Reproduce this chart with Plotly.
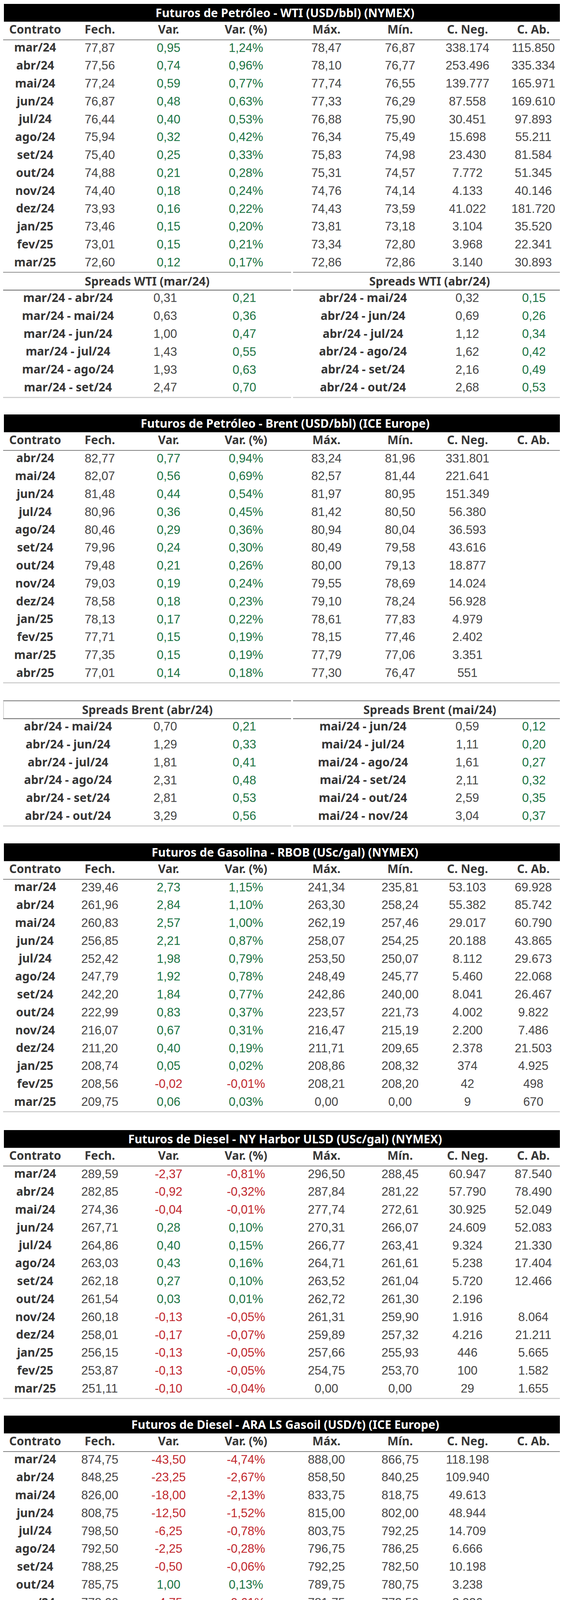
import plotly.graph_objects as go

# ---------------- data ----------------
months13_wti = ["mar/24", "abr/24", "mai/24", "jun/24", "jul/24", "ago/24", "set/24",
                "out/24", "nov/24", "dez/24", "jan/25", "fev/25", "mar/25"]
fut_headers = ["Contrato", "Fech.", "Var.", "Var. (%)", "Máx.", "Mín.", "C. Neg.", "C. Ab."]

# WTI (NYMEX)
wti_contract = months13_wti
wti_close = [77.87, 77.56, 77.24, 76.87, 76.44, 75.94, 75.40, 74.88, 74.40, 73.93, 73.46, 73.01, 72.60]
wti_chg = [0.95, 0.74, 0.59, 0.48, 0.40, 0.32, 0.25, 0.21, 0.18, 0.16, 0.15, 0.15, 0.12]
wti_pct = [1.24, 0.96, 0.77, 0.63, 0.53, 0.42, 0.33, 0.28, 0.24, 0.22, 0.20, 0.21, 0.17]
wti_high = [78.47, 78.10, 77.74, 77.33, 76.88, 76.34, 75.83, 75.31, 74.76, 74.43, 73.81, 73.34, 72.86]
wti_low = [76.87, 76.77, 76.55, 76.29, 75.90, 75.49, 74.98, 74.57, 74.14, 73.59, 73.18, 72.80, 72.86]
wti_vol = [338174, 253496, 139777, 87558, 30451, 15698, 23430, 7772, 4133, 41022, 3104, 3968, 3140]
wti_oi = [115850, 335334, 165971, 169610, 97893, 55211, 81584, 51345, 40146, 181720, 35520, 22341, 30893]

# Spreads WTI
spr_wti_mar_label = ["mar/24 - abr/24", "mar/24 - mai/24", "mar/24 - jun/24",
                     "mar/24 - jul/24", "mar/24 - ago/24", "mar/24 - set/24"]
spr_wti_mar_val = [0.31, 0.63, 1.00, 1.43, 1.93, 2.47]
spr_wti_mar_chg = [0.21, 0.36, 0.47, 0.55, 0.63, 0.70]
spr_wti_abr_label = ["abr/24 - mai/24", "abr/24 - jun/24", "abr/24 - jul/24",
                     "abr/24 - ago/24", "abr/24 - set/24", "abr/24 - out/24"]
spr_wti_abr_val = [0.32, 0.69, 1.12, 1.62, 2.16, 2.68]
spr_wti_abr_chg = [0.15, 0.26, 0.34, 0.42, 0.49, 0.53]

# Brent (ICE Europe)
brent_contract = ["abr/24", "mai/24", "jun/24", "jul/24", "ago/24", "set/24", "out/24",
                  "nov/24", "dez/24", "jan/25", "fev/25", "mar/25", "abr/25"]
brent_close = [82.77, 82.07, 81.48, 80.96, 80.46, 79.96, 79.48, 79.03, 78.58, 78.13, 77.71, 77.35, 77.01]
brent_chg = [0.77, 0.56, 0.44, 0.36, 0.29, 0.24, 0.21, 0.19, 0.18, 0.17, 0.15, 0.15, 0.14]
brent_pct = [0.94, 0.69, 0.54, 0.45, 0.36, 0.30, 0.26, 0.24, 0.23, 0.22, 0.19, 0.19, 0.18]
brent_high = [83.24, 82.57, 81.97, 81.42, 80.94, 80.49, 80.00, 79.55, 79.10, 78.61, 78.15, 77.79, 77.30]
brent_low = [81.96, 81.44, 80.95, 80.50, 80.04, 79.58, 79.13, 78.69, 78.24, 77.83, 77.46, 77.06, 76.47]
brent_vol = [331801, 221641, 151349, 56380, 36593, 43616, 18877, 14024, 56928, 4979, 2402, 3351, 551]
brent_oi = [None] * 13

# Spreads Brent
spr_brent_abr_label = ["abr/24 - mai/24", "abr/24 - jun/24", "abr/24 - jul/24",
                       "abr/24 - ago/24", "abr/24 - set/24", "abr/24 - out/24"]
spr_brent_abr_val = [0.70, 1.29, 1.81, 2.31, 2.81, 3.29]
spr_brent_abr_chg = [0.21, 0.33, 0.41, 0.48, 0.53, 0.56]
spr_brent_mai_label = ["mai/24 - jun/24", "mai/24 - jul/24", "mai/24 - ago/24",
                       "mai/24 - set/24", "mai/24 - out/24", "mai/24 - nov/24"]
spr_brent_mai_val = [0.59, 1.11, 1.61, 2.11, 2.59, 3.04]
spr_brent_mai_chg = [0.12, 0.20, 0.27, 0.32, 0.35, 0.37]

# Gasolina RBOB (NYMEX)
rbob_contract = months13_wti
rbob_close = [239.46, 261.96, 260.83, 256.85, 252.42, 247.79, 242.20, 222.99, 216.07, 211.20, 208.74, 208.56, 209.75]
rbob_chg = [2.73, 2.84, 2.57, 2.21, 1.98, 1.92, 1.84, 0.83, 0.67, 0.40, 0.05, -0.02, 0.06]
rbob_pct = [1.15, 1.10, 1.00, 0.87, 0.79, 0.78, 0.77, 0.37, 0.31, 0.19, 0.02, -0.01, 0.03]
rbob_high = [241.34, 263.30, 262.19, 258.07, 253.50, 248.49, 242.86, 223.57, 216.47, 211.71, 208.86, 208.21, 0.00]
rbob_low = [235.81, 258.24, 257.46, 254.25, 250.07, 245.77, 240.00, 221.73, 215.19, 209.65, 208.32, 208.20, 0.00]
rbob_vol = [53103, 55382, 29017, 20188, 8112, 5460, 8041, 4002, 2200, 2378, 374, 42, 9]
rbob_oi = [69928, 85742, 60790, 43865, 29673, 22068, 26467, 9822, 7486, 21503, 4925, 498, 670]

# Diesel NY Harbor ULSD (NYMEX)
ho_contract = months13_wti
ho_close = [289.59, 282.85, 274.36, 267.71, 264.86, 263.03, 262.18, 261.54, 260.18, 258.01, 256.15, 253.87, 251.11]
ho_chg = [-2.37, -0.92, -0.04, 0.28, 0.40, 0.43, 0.27, 0.03, -0.13, -0.17, -0.13, -0.13, -0.10]
ho_pct = [-0.81, -0.32, -0.01, 0.10, 0.15, 0.16, 0.10, 0.01, -0.05, -0.07, -0.05, -0.05, -0.04]
ho_high = [296.50, 287.84, 277.74, 270.31, 266.77, 264.71, 263.52, 262.72, 261.31, 259.89, 257.66, 254.75, 0.00]
ho_low = [288.45, 281.22, 272.61, 266.07, 263.41, 261.61, 261.04, 261.30, 259.90, 257.32, 255.93, 253.70, 0.00]
ho_vol = [60947, 57790, 30925, 24609, 9324, 5238, 5720, 2196, 1916, 4216, 446, 100, 29]
ho_oi = [87540, 78490, 52049, 52083, 21330, 17404, 12466, None, 8064, 21211, 5665, 1582, 1655]

# Diesel ARA LS Gasoil (ICE Europe)
gasoil_contract = ["mar/24", "abr/24", "mai/24", "jun/24", "jul/24", "ago/24",
                   "set/24", "out/24", "nov/24", "dez/24", "jan/25"]
gasoil_close = [874.75, 848.25, 826.00, 808.75, 798.50, 792.50, 788.25, 785.75, 778.00, 768.50, 762.50]
gasoil_chg = [-43.50, -23.25, -18.00, -12.50, -6.25, -2.25, -0.50, 1.00, -4.75, -6.75, -3.25]
gasoil_pct = [-4.74, -2.67, -2.13, -1.52, -0.78, -0.28, -0.06, 0.13, -0.61, -0.87, -0.42]
gasoil_high = [888.00, 858.50, 833.75, 815.00, 803.75, 796.75, 792.25, 789.75, 781.75, 771.75, 764.75]
gasoil_low = [866.75, 840.25, 818.75, 802.00, 792.25, 786.25, 782.50, 780.75, 772.50, 763.00, 757.75]
gasoil_vol = [118198, 109940, 49613, 48944, 14709, 6666, 10198, 3238, 2026, 15368, 1634]
gasoil_oi = [None] * 11

# Crack spreads
crack_products = ["Diesel NY", "Gasolina NY", "3:2:1"]
crack_wti_mar = [43.76, 22.70, 29.72]
crack_wti_mar_chg = [-1.95, 0.20, -0.52]
crack_wti_abr = [41.24, 32.46, 35.39]
crack_wti_abr_chg = [-1.13, 0.45, -0.07]
crack_brent_abr = [36.03, 27.25, 30.18]
crack_brent_abr_chg = [-1.16, 0.42, -0.10]
crack_brent_mai = [33.16, 27.48, 29.37]
crack_brent_mai_chg = [-0.58, 0.52, None]

# Spread Brent - WTI
bw_contract = ["abr/24", "mai/24", "jun/24"]
bw_spread = [5.21, 4.83, 4.61]
bw_chg = [0.03, -0.03, -0.04]

# Índices
idx_name = ["Dollar Index", "Dólar/Real", "Índice CRB"]
idx_close = [104.960, 4.954, 314.04]
idx_chg = [0.790, 0.000, -0.26]
idx_pct = [0.76, 0.00, None]
idx_decimals = [3, 3, 2]

# Gás Natural - contratos futuros
gas_name = ["Henry Hub", "TTF", "NBP"]
gas_close = [1.69, 25.45, 62.19]
gas_chg = [-0.04, -0.01, -0.01]

# Gás Natural - Brasil
br_name = ["Petrobras 2024/25 (11,9%)"]
br_close = [9.850]
br_chg = [0.992]
br_pct = [1.24]

# ---------------- style ----------------
W, H = 1441, 5221
RH = 45.77          # row height (px)
HEAD_H = 46.5       # column header height
TITLE_H = 45.5      # black title bar height
GREEN = "#1b7343"
RED = "#c1272d"
GRAY = "#454545"
LABEL = "#363636"
HEAD_LINE = "#808080"
END_LINE = "#c8c8c8"
BOLD_FONT = "Noto Sans"
NUM_FONT = "Liberation Sans, Arial, sans-serif"
FS_NUM = 31
FS_LAB = 30


def br(v, dec=2, pct=False):
    if v is None:
        return ""
    s = f"{v:,.{dec}f}".replace(",", "X").replace(".", ",").replace("X", ".")
    return s + ("%" if pct else "")


def ccol(v):
    if v is None or v == 0:
        return GRAY
    return GREEN if v > 0 else RED


def b(lst):
    return [f"<b>{s}</b>" for s in lst]


fig = go.Figure()


def centers(x0, widths):
    out, acc = [], x0
    for w in widths:
        out.append(acc + w / 2)
        acc += w
    return out


def text_col(xc, top, texts, colors, bold=False, rh=RH):
    n = len(texts)
    ys = [top + (i + 0.5) * rh for i in range(n)]
    fig.add_trace(go.Scatter(
        x=[xc] * n, y=ys, mode="text", text=b(texts) if bold else texts,
        textposition="middle center", cliponaxis=False, hoverinfo="skip", showlegend=False,
        textfont=dict(family=BOLD_FONT if bold else NUM_FONT,
                      size=FS_LAB if bold else FS_NUM, color=colors)))


def hline(x0, x1, y, color, width):
    fig.add_shape(type="line", xref="x", yref="y", x0=x0, x1=x1, y0=y, y1=y,
                  line=dict(color=color, width=width), layer="above")


def vline(x, y0, y1, color, width):
    fig.add_shape(type="line", xref="x", yref="y", x0=x, x1=x, y0=y0, y1=y1,
                  line=dict(color=color, width=width), layer="above")


def table(x0, widths, top, cols, colors, header=None):
    """cols[0] is the (bold) label column; returns y where rows end."""
    cx = centers(x0, widths)
    if header:
        for xc, h in zip(cx, header):
            text_col(xc, top, [h], [LABEL], bold=True, rh=HEAD_H)
        hline(x0, x0 + sum(widths), top + HEAD_H, HEAD_LINE, 2)
        top = top + HEAD_H
    for i, (xc, col, colr) in enumerate(zip(cx, cols, colors)):
        text_col(xc, top, col, colr, bold=(i == 0))
    return top + len(cols[0]) * RH


def title_bar(x0, x1, y0, text):
    y1 = y0 + TITLE_H
    fig.add_shape(type="rect", xref="x", yref="y", x0=x0, x1=x1, y0=y0, y1=y1,
                  fillcolor="black", line=dict(width=0), layer="below")
    fig.add_annotation(xref="x", yref="y", x=(x0 + x1) / 2, y=(y0 + y1) / 2,
                       text=f"<b>{text}</b>", showarrow=False, xanchor="center", yanchor="middle",
                       font=dict(family=BOLD_FONT, size=FS_LAB, color="white"))
    return y1


def sub_title(x0, x1, y0, text):
    fig.add_annotation(xref="x", yref="y", x=(x0 + x1) / 2, y=y0 + RH / 2,
                       text=f"<b>{text}</b>", showarrow=False, xanchor="center", yanchor="middle",
                       font=dict(family=BOLD_FONT, size=FS_LAB, color=LABEL))


FUT_W = [164, 167, 185, 211, 201, 176, 169, 168]


def futures_block(top, title, contract, close, chg, pct, high, low, vol, oi):
    htop = title_bar(2, W, top, title)
    n = len(contract)
    cols = [contract, [br(v) for v in close], [br(v) for v in chg],
            [br(v, 2, True) for v in pct], [br(v) for v in high], [br(v) for v in low],
            [br(v, 0) for v in vol], [br(v, 0) for v in oi]]
    colors = [[LABEL] * n, [GRAY] * n, [ccol(v) for v in chg], [ccol(v) for v in pct],
              [GRAY] * n, [GRAY] * n, [GRAY] * n, [GRAY] * n]
    return table(0, FUT_W, htop, cols, colors, header=fut_headers)


LEFT = 0
RIGHT = 742
HALF_W_L = [332, 166, 239]
HALF_W_R = [358, 176, 165]


def pair_table(x0, widths, top, labels, vals, chgs, header=None):
    n = len(labels)
    cols = [labels, [br(v) for v in vals], [br(v) for v in chgs]]
    colors = [[LABEL] * n, [GRAY] * n, [ccol(v) for v in chgs]]
    return table(x0, widths, top, cols, colors, header=header)


# ---------- 1. WTI ----------
end1 = futures_block(2, "Futuros de Petróleo - WTI (USD/bbl) (NYMEX)", wti_contract, wti_close,
                     wti_chg, wti_pct, wti_high, wti_low, wti_vol, wti_oi)
hline(0, 737, end1, "#8f8f8f", 2)
hline(742, W, end1, "#8f8f8f", 2)
sub_title(0, 737, end1, "Spreads WTI (mar/24)")
sub_title(742, W, end1, "Spreads WTI (abr/24)")
s_top = end1 + RH
hline(0, 737, s_top, HEAD_LINE, 2.5)
hline(742, W, s_top, HEAD_LINE, 2.5)
s_end = pair_table(LEFT, HALF_W_L, s_top, spr_wti_mar_label, spr_wti_mar_val, spr_wti_mar_chg)
pair_table(RIGHT, HALF_W_R, s_top, spr_wti_abr_label, spr_wti_abr_val, spr_wti_abr_chg)
hline(0, 737, s_end, END_LINE, 2.5)
hline(742, W, s_end, END_LINE, 2.5)

# ---------- 2. Brent ----------
end2 = futures_block(1053, "Futuros de Petróleo - Brent (USD/bbl) (ICE Europe)", brent_contract,
                     brent_close, brent_chg, brent_pct, brent_high, brent_low, brent_vol, brent_oi)
hline(0, W, end2, END_LINE, 2.5)
sb_top = 1786
hline(0, 737, sb_top, "#8a8a8a", 2.5)
hline(742, W, sb_top, "#8a8a8a", 2.5)
vline(1, sb_top, sb_top + RH, END_LINE, 1.5)
sub_title(0, 737, sb_top, "Spreads Brent (abr/24)")
sub_title(742, W, sb_top, "Spreads Brent (mai/24)")
sb_rows = sb_top + RH
hline(0, 737, sb_rows, HEAD_LINE, 2.5)
hline(742, W, sb_rows, HEAD_LINE, 2.5)
sb_end = pair_table(LEFT, HALF_W_L, sb_rows, spr_brent_abr_label, spr_brent_abr_val, spr_brent_abr_chg)
pair_table(RIGHT, HALF_W_R, sb_rows, spr_brent_mai_label, spr_brent_mai_val, spr_brent_mai_chg)
hline(0, 737, sb_end, END_LINE, 2.5)
hline(742, W, sb_end, END_LINE, 2.5)

# ---------- 3. Gasolina ----------
end3 = futures_block(2151, "Futuros de Gasolina - RBOB (USc/gal) (NYMEX)", rbob_contract, rbob_close,
                     rbob_chg, rbob_pct, rbob_high, rbob_low, rbob_vol, rbob_oi)
hline(0, W, end3, END_LINE, 2.5)

# ---------- 4. Diesel NY ----------
end4 = futures_block(2885, "Futuros de Diesel - NY Harbor ULSD (USc/gal) (NYMEX)", ho_contract, ho_close,
                     ho_chg, ho_pct, ho_high, ho_low, ho_vol, ho_oi)
hline(0, W, end4, END_LINE, 2.5)

# ---------- 5. ARA Gasoil ----------
end5 = futures_block(3616, "Futuros de Diesel - ARA LS Gasoil (USD/t) (ICE Europe)", gasoil_contract,
                     gasoil_close, gasoil_chg, gasoil_pct, gasoil_high, gasoil_low, gasoil_vol, gasoil_oi)
hline(0, W, end5, END_LINE, 2.5)

# ---------- 6. Crack spreads ----------
c_top = 4257
title_bar(2, 737, c_top, "Crack-Spreads WTI (USD/bbl)")
h1 = title_bar(742, W, c_top, "Crack-Spreads Brent (USD/bbl)")
h2 = pair_table(LEFT, HALF_W_L, h1, crack_products, crack_wti_mar, crack_wti_mar_chg,
                header=["Contrato (mar/24)", "Crack", "Var."])
pair_table(RIGHT, HALF_W_R, h1, crack_products, crack_brent_abr, crack_brent_abr_chg,
           header=["Contrato (abr/24)", "Crack", "Var."])
hline(0, 737, h2, "#a0a0a0", 2.5)
hline(742, 1274, h2, "#a0a0a0", 2.5)
c_end = pair_table(LEFT, HALF_W_L, h2, crack_products, crack_wti_abr, crack_wti_abr_chg,
                   header=["Contrato (abr/24)", "Crack", "Var."])
pair_table(RIGHT, HALF_W_R, h2, crack_products, crack_brent_mai, crack_brent_mai_chg,
           header=["Contrato (mai/24)", "Crack", "Var."])
hline(0, 737, c_end, END_LINE, 2.5)
hline(742, W, c_end, END_LINE, 2.5)

# ---------- 7. Spread Brent-WTI / Índices ----------
SMALL_W = [164, 167, 166]
IDX_W = [425, 176, 169, 168]
i_top = 4715
title_bar(2, 497, i_top, "Spread Brent - WTI")
ih = title_bar(503, W, i_top, "Índices")
i_end = pair_table(0, SMALL_W, ih, bw_contract, bw_spread, bw_chg, header=["Contrato", "Spread", "Var."])
n_idx = len(idx_name)
table(503, IDX_W, ih,
      [idx_name, [br(v, d) for v, d in zip(idx_close, idx_decimals)],
       [br(v, d) for v, d in zip(idx_chg, idx_decimals)], [br(v, 2, True) for v in idx_pct]],
      [[LABEL] * n_idx, [GRAY] * n_idx, [ccol(v) for v in idx_chg], [ccol(v) for v in idx_pct]],
      header=["Índice", "Fech.", "Var.", "Var. (%)"])
hline(0, W, i_end, END_LINE, 2.5)

# ---------- 8. Gás natural ----------
g_top = 4990
title_bar(2, 497, g_top, "Gás Natural - Contratos Futuros")
gh = title_bar(503, W, g_top, "Gás Natural - Brasil")
n_gas = len(gas_name)
table(0, SMALL_W, gh,
      [gas_name, [br(v) for v in gas_close], [br(v) for v in gas_chg]],
      [[LABEL] * n_gas, [GRAY] * n_gas, [ccol(v) for v in gas_chg]],
      header=["Contrato", "Fech.", "Var."])
# Brazil table: header, then a single row centred across the three-row body
for xc, hdr in zip(centers(503, IDX_W), ["Índice", "Fech.", "Var.", "Var. (%)"]):
    text_col(xc, gh, [hdr], [LABEL], bold=True, rh=HEAD_H)
hline(503, W, gh + HEAD_H, HEAD_LINE, 2)
bcx = centers(503, IDX_W)
brow = gh + HEAD_H + RH
text_col(bcx[0], brow, br_name, [LABEL], bold=True)
text_col(bcx[1], brow, [br(v, 3) for v in br_close], [GRAY])
text_col(bcx[2], brow, [br(v, 3) for v in br_chg], [ccol(v) for v in br_chg])
text_col(bcx[3], brow, [br(v, 2, True) for v in br_pct], [ccol(v) for v in br_pct])

fig.update_layout(
    width=W, height=H, margin=dict(l=0, r=0, t=0, b=0),
    paper_bgcolor="white", plot_bgcolor="white", showlegend=False,
    xaxis=dict(range=[0, W], visible=False, fixedrange=True),
    yaxis=dict(range=[H, 0], visible=False, fixedrange=True),
)

fig.write_html("out.html")
